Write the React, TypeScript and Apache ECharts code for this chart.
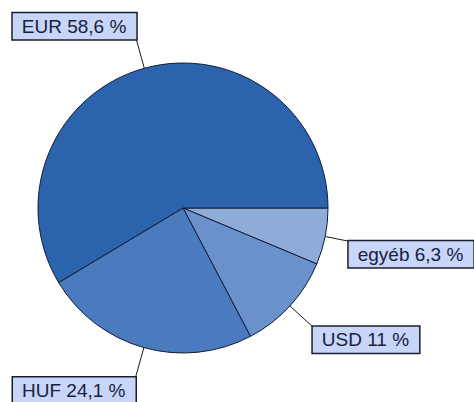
import React, { useEffect, useRef } from "react";
import * as echarts from "echarts";

const categories = ["egyéb", "USD", "HUF", "EUR"];
const values = [6.3, 11, 24.1, 58.6];
const colors = ["#8eacd8", "#6a91cb", "#4a7bbf", "#2b63ad"];
const lineLengths = [24, 31, 31, 30];

export default function App() {
  const ref = useRef<HTMLDivElement>(null);
  useEffect(() => {
    document.body.style.margin = "0";
    const chart = echarts.init(ref.current!, null, { renderer: "svg" });
    chart.setOption({
      animation: false,
      backgroundColor: "#ffffff",
      series: [
        {
          type: "pie",
          center: [183, 208],
          radius: 145,
          startAngle: 0,
          clockwise: true,
          avoidLabelOverlap: false,
          data: categories.map((c, i) => ({
            name: c,
            value: values[i],
            itemStyle: { color: colors[i] },
            labelLine: { length: lineLengths[i], length2: 0 },
          })),
          itemStyle: { borderColor: "#121d35", borderWidth: 1 },
          label: {
            show: true,
            position: "outside",
            formatter: (p: any) => `${p.name} ${String(p.value).replace(".", ",")} %`,
            fontFamily: "Liberation Sans, Arial, sans-serif",
            fontSize: 19,
            lineHeight: 20,
            color: "#17213d",
            backgroundColor: "#c6d5f8",
            borderColor: "#1a1f2e",
            borderWidth: 1.5,
            padding: [3, 10, 3, 9],
          },
          labelLine: {
            show: true,
            lineStyle: { color: "#1a1a1a", width: 1 },
          },
          labelLayout: (params: any) => {
            const pts = params.labelLinePoints;
            if (!pts) return {};
            const p0 = pts[0];
            const p1 = pts[1];
            const left = p1[0] < p0[0];
            const up = p1[1] < p0[1];
            return {
              x: p1[0],
              y: p1[1],
              align: left ? "right" : "left",
              verticalAlign: up ? "bottom" : "top",
              labelLinePoints: [p0, p1, p1],
            };
          },
        },
      ],
    });
    return () => chart.dispose();
  }, []);
  return <div ref={ref} style={{ width: 474, height: 402 }} />;
}
